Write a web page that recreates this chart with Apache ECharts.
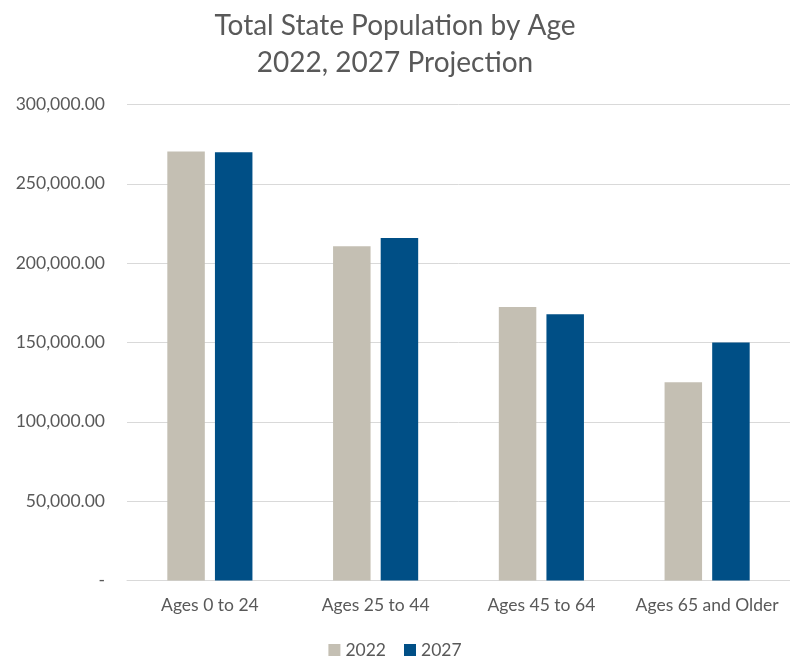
<!DOCTYPE html>
<html>
<head>
<meta charset="utf-8">
<script src="https://cdn.jsdelivr.net/npm/echarts@6/dist/echarts.min.js"></script>
<style>
  html, body { margin: 0; padding: 0; background: #fff; }
  #chart { width: 790px; height: 659px; }
</style>
</head>
<body>
<div id="chart"></div>
<script>
// Population by age group, 2022 actual vs. 2027 projection
const categories = ['Ages 0 to 24', 'Ages 25 to 44', 'Ages 45 to 64', 'Ages 65 and Older'];
const seriesNames = ['2022', '2027'];
const values2022 = [270400, 210700, 172400, 125000];
const values2027 = [269900, 215900, 167800, 150000];
const yTicks = { min: 0, max: 300000, interval: 50000 };

const FONT = 'Lato, "Open Sans", sans-serif';
const TEXT = '#595959';

function fmt(v) {
  if (v === 0) return '-';
  return v.toLocaleString('en-US', { minimumFractionDigits: 2, maximumFractionDigits: 2 });
}

const chart = echarts.init(document.getElementById('chart'));
chart.setOption({
  animation: false,
  title: {
    text: 'Total State Population by Age\n2022, 2027 Projection',
    left: 'center',
    top: 2,
    textStyle: { fontFamily: FONT, fontSize: 28, fontWeight: 'normal', color: TEXT, lineHeight: 37 }
  },
  legend: {
    data: seriesNames,
    top: 636,
    left: 'center',
    itemWidth: 12,
    itemHeight: 12,
    itemGap: 18,
    icon: 'rect',
    textStyle: { fontFamily: FONT, fontSize: 17.5, color: TEXT }
  },
  grid: { left: 127, top: 104.5, width: 667, height: 476 },
  xAxis: {
    type: 'category',
    data: categories,
    axisLine: { lineStyle: { color: '#d9d9d9', width: 1 } },
    axisTick: { show: false },
    axisLabel: { interval: 0, fontFamily: FONT, fontSize: 17.5, color: TEXT, margin: 16 }
  },
  yAxis: {
    type: 'value',
    min: yTicks.min,
    max: yTicks.max,
    interval: yTicks.interval,
    axisLine: { show: false },
    axisTick: { show: false },
    splitLine: { lineStyle: { color: '#d9d9d9', width: 1 } },
    axisLabel: { fontFamily: FONT, fontSize: 17.5, color: TEXT, margin: 22, formatter: fmt }
  },
  series: [
    {
      name: seriesNames[0], type: 'bar', data: values2022,
      barWidth: 37.5, barGap: '27%',
      itemStyle: { color: '#c4bfb3' }
    },
    {
      name: seriesNames[1], type: 'bar', data: values2027,
      barWidth: 37.5, barGap: '27%',
      itemStyle: { color: '#004f86' }
    }
  ]
});
</script>
</body>
</html>
